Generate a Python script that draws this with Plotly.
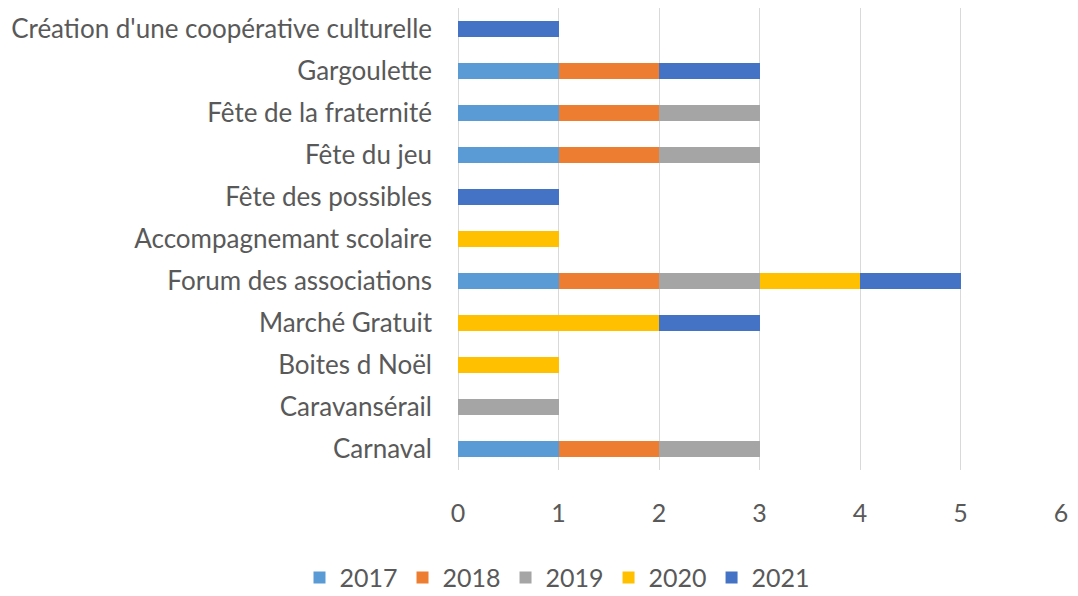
import plotly.graph_objects as go

categories = ["Carnaval", "Caravansérail", "Boites d Noël", "Marché Gratuit",
              "Forum des associations", "Accompagnemant scolaire", "Fête des possibles",
              "Fête du jeu", "Fête de la fraternité", "Gargoulette",
              "Création d'une coopérative culturelle"]
years = ["2017", "2018", "2019", "2020", "2021"]
v2017 = [1, 0, 0, 0, 1, 0, 0, 1, 1, 1, 0]
v2018 = [1, 0, 0, 0, 1, 0, 0, 1, 1, 1, 0]
v2019 = [1, 1, 0, 0, 1, 0, 0, 1, 1, 0, 0]
v2020 = [0, 0, 1, 2, 1, 1, 0, 0, 0, 0, 0]
v2021 = [0, 0, 0, 1, 1, 0, 1, 0, 0, 1, 1]
series = [v2017, v2018, v2019, v2020, v2021]
colors = ["#5B9BD5", "#ED7D31", "#A5A5A5", "#FFC000", "#4472C4"]

FONT = "Lato"
FS = 25
fig = go.Figure()
for name, vals, c in zip(years, series, colors):
    fig.add_trace(go.Bar(y=categories, x=vals, name=name, orientation="h",
                         marker=dict(color=c, line=dict(width=0))))

fig.update_layout(
    barmode="stack", bargap=0.6,
    width=1062, height=596,
    margin=dict(l=450, r=9, t=0, b=134),
    paper_bgcolor="white", plot_bgcolor="white",
    font=dict(family=FONT, size=FS, color="#595959"),
    xaxis=dict(range=[0, 6], dtick=1, showgrid=True, gridcolor="#D9D9D9", gridwidth=1,
               zeroline=True, zerolinecolor="#D9D9D9", zerolinewidth=1,
               showline=False, ticks="", tickfont=dict(size=FS, color="#595959"),
               ticklabelstandoff=26, automargin=False, fixedrange=True),
    yaxis=dict(showgrid=False, showline=False, ticks="", ticklabelstandoff=25,
               automargin=False, tickfont=dict(size=26, color="#595959")),
    legend=dict(orientation="h", x=0.165, xanchor="center",
                y=-0.233, yanchor="middle",
                font=dict(size=FS, color="#595959"), traceorder="normal",
                itemwidth=30),
    showlegend=True,
)
fig.write_html("out.html")
